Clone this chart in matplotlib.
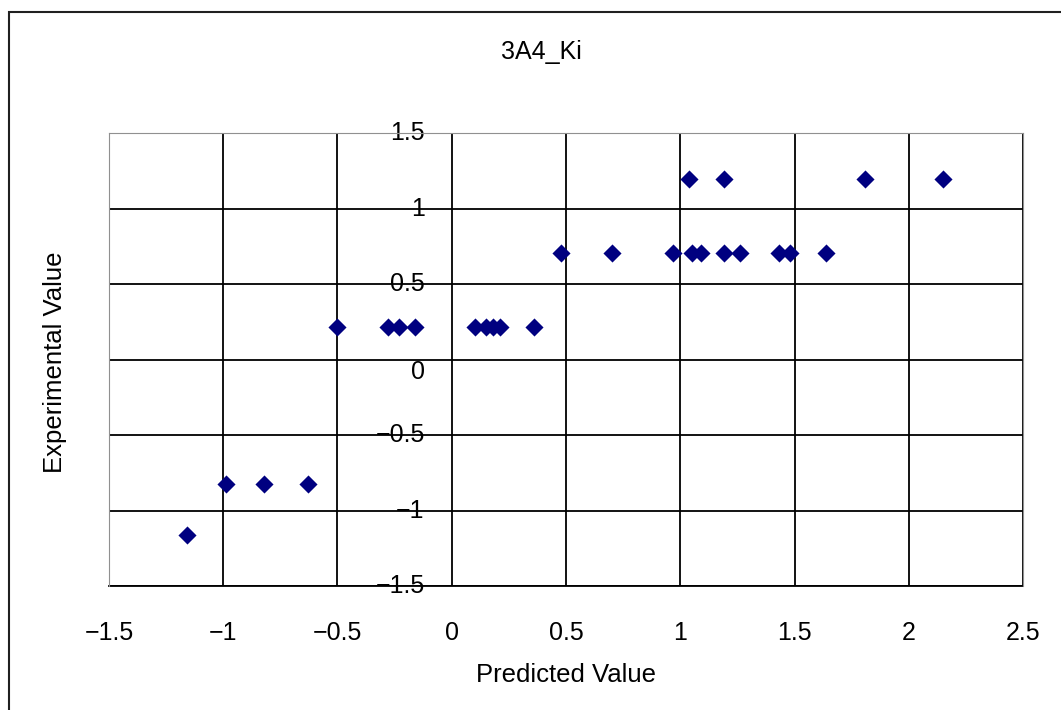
import matplotlib.pyplot as plt
from matplotlib.patches import Rectangle

predicted = [-1.16,
             -0.99, -0.82, -0.63,
             -0.50, -0.28, -0.23, -0.16, 0.10, 0.15, 0.18, 0.21, 0.36,
             0.48, 0.70, 0.97, 1.05, 1.09, 1.19, 1.26, 1.43, 1.48, 1.64,
             1.04, 1.19, 1.81, 2.15]
experimental = [-1.16,
                -0.82, -0.82, -0.82,
                0.22, 0.22, 0.22, 0.22, 0.22, 0.22, 0.22, 0.22, 0.22,
                0.71, 0.71, 0.71, 0.71, 0.71, 0.71, 0.71, 0.71, 0.71, 0.71,
                1.20, 1.20, 1.20, 1.20]

x_ticks = [-1.5, -1, -0.5, 0, 0.5, 1, 1.5, 2, 2.5]
x_labels = ['\u22121.5', '\u22121', '\u22120.5', '0', '0.5', '1', '1.5', '2', '2.5']
y_ticks = [1.5, 1, 0.5, 0, -0.5, -1, -1.5]
y_labels = ['1.5', '1', '0.5', '0', '\u22120.5', '\u22121', '\u22121.5']

fonte = 'Liberation Sans'

fig = plt.figure(figsize=(10.61, 7.10), dpi=100)
ax = fig.add_axes([0.1027, 0.174, 0.8615, 0.6383])

ax.scatter(predicted, experimental, s=85, marker='D', c='#000080', linewidths=0, zorder=4)

ax.set_xlim(-1.5, 2.5)
ax.set_ylim(-1.5, 1.5)
ax.set_xticks(x_ticks)
ax.set_xticklabels(x_labels, fontsize=18, family=fonte)
ax.set_yticks(y_ticks)
ax.set_yticklabels([])
ax.tick_params(axis='x', length=0, pad=25)
ax.tick_params(axis='y', length=0)
ax.grid(True, color='black', linewidth=1.3)

for nome in ['left', 'right', 'top']:
    ax.spines[nome].set_color('#909090')
    ax.spines[nome].set_zorder(3)
ax.spines['bottom'].set_color('black')
ax.spines['bottom'].set_linewidth(1.3)

# rotulos do eixo y junto da linha x=0 (estilo Excel)
for t, txt in zip(y_ticks, y_labels):
    dy = -9 if t == 0 else 0
    ax.annotate(txt, xy=(0, t), xytext=(-19.5, dy), textcoords='offset points',
                ha='right', va='center', fontsize=18, family=fonte,
                zorder=1, annotation_clip=False)

fig.text(0.1027 + 0.8615 / 2, 1 - 675 / 710, 'Predicted Value', ha='center', va='center',
         fontsize=18.5, family=fonte)
fig.text(55 / 1061, 1 - 362 / 710, 'Experimental Value', ha='center', va='center',
         rotation=90, fontsize=18.5, family=fonte)
fig.text(541 / 1061, 1 - 52 / 710, '3A4_Ki', ha='center', va='center',
         fontsize=18, family=fonte)

fig.patches.append(Rectangle((9 / 1061, -0.1), 1.2, 1 - 12 / 710 + 0.1, transform=fig.transFigure,
                             fill=False, edgecolor='#202020', linewidth=1.5))

plt.savefig('out.png', dpi=100)
